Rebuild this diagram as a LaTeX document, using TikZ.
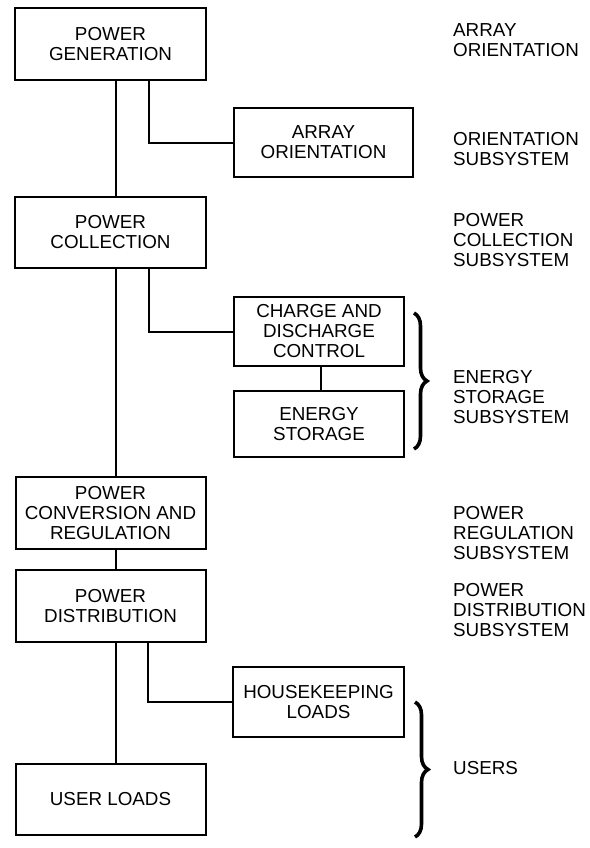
\documentclass[tikz,border=0pt]{standalone}
\usepackage{fontspec}
\setmainfont{Liberation Sans}
\usetikzlibrary{decorations.pathreplacing}
\begin{document}
\begin{tikzpicture}[x=1pt,y=-1pt,
  every node/.style={font=\fontsize{18.8}{20}\selectfont, text=black},
  blk/.style={draw=black, line width=2pt, rectangle, inner sep=0pt, align=center},
  lbl/.style={anchor=west, align=left, inner sep=0pt},
  wire/.style={line width=2pt},
  bracket/.style={line width=3.6pt, decorate, decoration={brace, amplitude=13pt, aspect=0.5}}]
\useasboundingbox (0,0) rectangle (589,848);
% boxes
\node[blk, minimum width=191pt, minimum height=72pt] (gen) at (110.5,44) {POWER\\GENERATION};
\node[blk, minimum width=179pt, minimum height=69pt] (arr) at (323.5,142.5) {ARRAY\\ORIENTATION};
\node[blk, minimum width=191pt, minimum height=71pt] (col) at (110.5,232.5) {POWER\\COLLECTION};
\node[blk, minimum width=170pt, minimum height=69pt] (chg) at (319,331.5) {CHARGE AND\\DISCHARGE\\CONTROL};
\node[blk, minimum width=170pt, minimum height=66pt] (sto) at (319,424) {ENERGY\\STORAGE};
\node[blk, minimum width=190pt, minimum height=72pt] (conv) at (110.5,513) {POWER\\CONVERSION AND\\REGULATION};
\node[blk, minimum width=190pt, minimum height=72pt] (dist) at (110.5,606) {POWER\\DISTRIBUTION};
\node[blk, minimum width=171pt, minimum height=70pt] (hk) at (318.5,702) {HOUSEKEEPING\\LOADS};
\node[blk, minimum width=190pt, minimum height=71pt] (usr) at (110.5,799.5) {USER LOADS};
% labels
\node[lbl] (l1) at (453,40) {ARRAY\\ORIENTATION};
\node[lbl] (l2) at (453,149) {ORIENTATION\\SUBSYSTEM};
\node[lbl] (l3) at (453,240) {POWER\\COLLECTION\\SUBSYSTEM};
\node[lbl] (l4) at (453,397) {ENERGY\\STORAGE\\SUBSYSTEM};
\node[lbl] (l5) at (453,533) {POWER\\REGULATION\\SUBSYSTEM};
\node[lbl] (l6) at (453,610) {POWER\\DISTRIBUTION\\SUBSYSTEM};
\node[lbl] (l7) at (453,768) {USERS};
% connectors
\draw[wire] ([xshift=5.5pt]gen.south) -- ([xshift=5.5pt]col.north);
\draw[wire] ([xshift=5pt]col.south) -- ([xshift=5pt]conv.north);
\draw[wire] ([xshift=5.5pt]conv.south) -- ([xshift=5.5pt]dist.north);
\draw[wire] ([xshift=5.5pt]dist.south) -- ([xshift=5.5pt]usr.north);
\draw[wire] ([xshift=38.5pt]gen.south) |- (arr.west);
\draw[wire] ([xshift=38.5pt]col.south) |- (chg.west);
\draw[wire] ([xshift=2pt]chg.south) -- ([xshift=2pt]sto.north);
\draw[wire] ([xshift=37pt]dist.south) |- (hk.west);
% braces
\coordinate (b1a) at (414,313);
\coordinate (b1b) at (414,449);
\coordinate (b2a) at (415,702);
\coordinate (b2b) at (415,837);
\draw[bracket] (b1a) -- (b1b);
\draw[bracket] (b2a) -- (b2b);
\end{tikzpicture}
\end{document}
